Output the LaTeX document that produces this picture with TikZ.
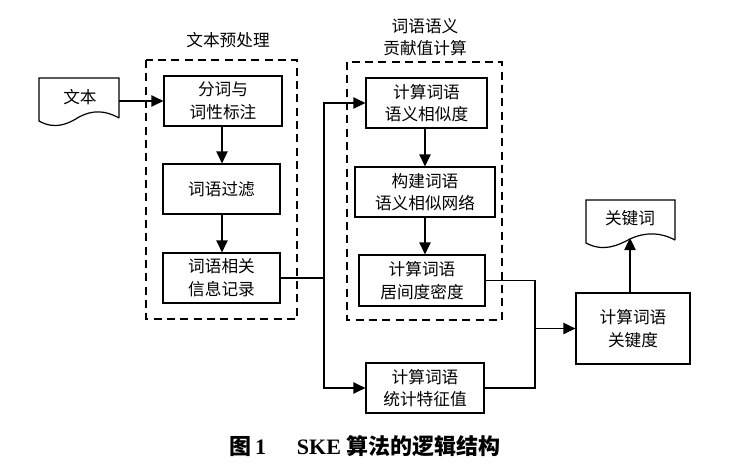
\documentclass[tikz,border=0pt]{standalone}
\usepackage{fontspec}
\setmainfont{Liberation Serif}
\newfontfamily\cjk{Noto Sans CJK SC}
\usetikzlibrary{arrows.meta}
\tikzset{
  px/.style={x=0.75pt,y=-0.75pt},
  procbox/.style={draw,line width=0.9pt,align=center,inner sep=0pt,font=\cjk\fontsize{12.5}{17}\selectfont},
  conn/.style={line width=0.9pt},
  arr/.style={line width=0.9pt,-{Triangle[length=9pt,width=8.5pt]}},
  grpbox/.style={line width=0.9pt,dash pattern=on 6pt off 4pt},
  lbl/.style={inner sep=0pt,align=center,font=\cjk\fontsize{12.5}{17}\selectfont},
}
\begin{document}
\begin{tikzpicture}[px]
\useasboundingbox (0,0) rectangle (744,472);
% group boxes
\draw[grpbox] (146,60) rectangle (297,319);
\draw[grpbox] (347,62) rectangle (502,320);
\node[lbl] (t1) at (228,40) {文本预处理};
\node[lbl] (t2) at (425,37) {词语语义\\贡献值计算};
% document 1
\draw[conn] (119,118) -- (119,78) -- (39,78) -- (39,121)
  .. controls (55,130) and (68,124) .. (79,117)
  .. controls (92,110) and (105,110) .. (119,118);
\node[lbl] (doc1) at (80,97) {文本};
\coordinate (d1r) at (119,101);
% document 2
\draw[conn] (675,240) -- (675,200) -- (586,200) -- (586,243)
  .. controls (603,252) and (617,246) .. (630,239)
  .. controls (645,232) and (660,232) .. (675,240);
\node[lbl] (doc2) at (630,218) {关键词};
\coordinate (d2b) at (630,238);
% boxes
\node[procbox,minimum width=88.5pt,minimum height=37.5pt] (b1) at (223,101) {分词与\\词性标注};
\node[procbox,minimum width=87.75pt,minimum height=37.5pt] (b2) at (221.5,189) {词语过滤};
\node[procbox,minimum width=87.75pt,minimum height=37.5pt] (b3) at (221.5,278) {词语相关\\信息记录};
\node[procbox,minimum width=90.75pt,minimum height=37.5pt] (b4) at (426.5,103) {计算词语\\语义相似度};
\node[procbox,minimum width=105pt,minimum height=37.5pt] (b5) at (425,192) {构建词语\\语义相似网络};
\node[procbox,minimum width=94.5pt,minimum height=38.25pt] (b6) at (422,280.5) {计算词语\\居间度密度};
\node[procbox,minimum width=88.5pt,minimum height=37.5pt] (b7) at (425,388) {计算词语\\统计特征值};
\node[procbox,minimum width=85.5pt,minimum height=53.25pt] (b8) at (633,328.5) {计算词语\\关键度};
% connectors
\draw[arr] (d1r) -- (b1.west);
\draw[arr] (b1.south -| 222,0) -- (b2.north -| 222,0);
\draw[arr] (b2.south -| 222,0) -- (b3.north -| 222,0);
\coordinate (j1) at (324,278);
\draw[conn] (b3.east) -- (j1);
\draw[arr] (j1) |- (b4.west);
\draw[arr] (j1) |- (b7.west);
\draw[arr] (b4.south -| 425,0) -- (b5.north -| 425,0);
\draw[arr] (b5.south -| 425,0) -- (b6.north -| 425,0);
\coordinate (j2) at (535,388);
\draw[conn] (b6.east) -| (j2) -- (b7.east);
\draw[arr] (b8.west -| j2) -- (b8.west);
\draw[arr] (b8.north -| d2b) -- (d2b);
% caption
\node[inner sep=0pt,font=\fontsize{16.5}{20}\selectfont\bfseries] (cap) at (365,446)
  {{\cjk 图}\,1\hspace{1.4em}SKE {\cjk 算法的逻辑结构}};
\end{tikzpicture}
\end{document}
